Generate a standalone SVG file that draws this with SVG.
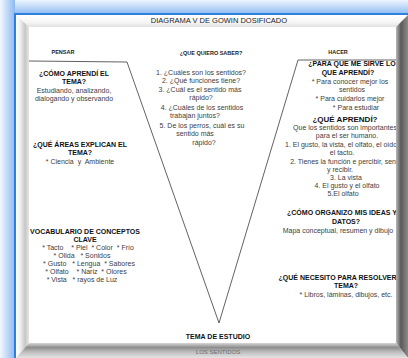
<svg xmlns="http://www.w3.org/2000/svg" width="408" height="358" viewBox="0 0 408 358">
<defs>
<linearGradient id="gTopBlue" x1="0" y1="0" x2="0" y2="1"><stop offset="0" stop-color="#eef5fe"/><stop offset="1" stop-color="#8ebcf2"/></linearGradient>
<linearGradient id="gLeftBlue" x1="0" y1="0" x2="1" y2="0"><stop offset="0" stop-color="#f2f7fe"/><stop offset="1" stop-color="#8cbaf0"/></linearGradient>
<linearGradient id="gTop" x1="0" y1="0" x2="0" y2="1"><stop offset="0" stop-color="#ffffff"/><stop offset="0.6" stop-color="#f6f6f6"/><stop offset="1" stop-color="#e2e2e2"/></linearGradient>
<linearGradient id="gLeft" x1="0" y1="0" x2="1" y2="0"><stop offset="0" stop-color="#ffffff"/><stop offset="0.3" stop-color="#f2f2f2"/><stop offset="0.7" stop-color="#c6c6c6"/><stop offset="1" stop-color="#e6e6e6"/></linearGradient>
<linearGradient id="gRight" x1="0" y1="0" x2="1" y2="0"><stop offset="0" stop-color="#b8b8b8"/><stop offset="0.4" stop-color="#5a5a5a"/><stop offset="1" stop-color="#8a8a8a"/></linearGradient>
<linearGradient id="gBottom" x1="0" y1="0" x2="0" y2="1"><stop offset="0" stop-color="#d6d6d6"/><stop offset="0.3" stop-color="#8e8e8e"/><stop offset="0.6" stop-color="#bdbdbd"/><stop offset="1" stop-color="#e4e4e4"/></linearGradient>
</defs>
<style>
text{font-family:"Liberation Sans",Arial,sans-serif;text-anchor:middle;white-space:pre}
.h{font-weight:bold;font-size:7px;fill:#111}
.hb{font-weight:bold;font-size:8px;fill:#111}
.t{font-size:7px;fill:#404040}
.s{font-weight:bold;font-size:5.5px;fill:#222}
.title{font-size:7.5px;fill:#222}
.sub{font-size:6px;fill:#6e6e6e}
.v{fill:none;stroke:#3a3a3a;stroke-width:0.8}
</style>
<rect width="408" height="358" fill="#ffffff"/>

<g id="connectors">
<polyline class="v" points="29,61 127,62 219,323 298,60 396,60"/>
</g>

<g id="pensar"><text class="s" x="63" y="54">PENSAR</text></g>
<g id="como-aprendi">
<text class="h" x="74" y="76">¿CÓMO APRENDÍ EL</text>
<text class="h" x="74" y="84">TEMA?</text>
<text class="t" x="74" y="93">Estudiando, analizando,</text>
<text class="t" x="74" y="101">dialogando y observando</text>
</g>
<g id="areas">
<text class="h" x="80" y="147">¿QUÉ ÁREAS EXPLICAN EL</text>
<text class="h" x="80" y="155">TEMA?</text>
<text class="t" x="80" y="164">* Ciencia  y  Ambiente</text>
</g>
<g id="vocabulario">
<text class="h" x="85" y="234">VOCABULARIO DE CONCEPTOS</text>
<text class="h" x="85" y="242">CLAVE</text>
<text class="t" x="88" y="250">* Tacto    * Piel  * Color  * Frío</text>
<text class="t" x="82" y="258">* Olida   * Sonidos</text>
<text class="t" x="89" y="266">* Gusto   * Lengua  * Sabores</text>
<text class="t" x="86" y="274">* Olfato    * Nariz  * Olores</text>
<text class="t" x="82" y="282">* Vista   * rayos de Luz</text>
</g>

<g id="quiero-saber">
<text class="s" x="211" y="55">¿QUE QUIERO SABER?</text>
<text class="t" x="201" y="75">1. ¿Cuáles son los sentidos?</text>
<text class="t" x="201" y="83">2. ¿Qué funciones tiene?</text>
<text class="t" x="200" y="92">3. ¿Cuál es el sentido más</text>
<text class="t" x="201" y="100">rápido?</text>
<text class="t" x="202" y="110">4. ¿Cuáles de los sentidos</text>
<text class="t" x="195" y="118">trabajan juntos?</text>
<text class="t" x="202" y="128">5. De los perros, cuál es su</text>
<text class="t" x="195" y="136">sentido más</text>
<text class="t" x="204" y="145">rápido?</text>
</g>

<g id="hacer"><text class="s" x="338" y="54">HACER</text></g>
<g id="para-que">
<text class="h" x="352" y="66">¿PARA QUE ME SIRVE LO</text>
<text class="h" x="348" y="75">QUE APRENDÍ?</text>
<text class="t" x="350" y="84">* Para conocer mejor los</text>
<text class="t" x="352" y="92">sentidos</text>
<text class="t" x="350" y="101">* Para cuidarlos mejor</text>
<text class="t" x="356" y="110">* Para estudiar</text>
</g>
<g id="que-aprendi">
<text class="hb" x="345" y="122">¿QUÉ APRENDÍ?</text>
<text class="t" x="345" y="130">Que los sentidos son importantes</text>
<text class="t" x="347" y="138">para el ser humano.</text>
<text class="t" x="342" y="147">1. El gusto, la vista, el olfato, el oído,</text>
<text class="t" x="342" y="155">el tacto.</text>
<text class="t" x="346" y="164">2. Tienes la función e percibir, sentir</text>
<text class="t" x="340" y="172">y recibir.</text>
<text class="t" x="346" y="180">3. La vista</text>
<text class="t" x="347" y="188">4. El gusto y el olfato</text>
<text class="t" x="343" y="196">5.El olfato</text>
</g>
<g id="organizo">
<text class="h" x="342" y="215">¿CÓMO ORGANIZO MIS IDEAS Y</text>
<text class="h" x="346" y="224">DATOS?</text>
<text class="t" x="338" y="233">Mapa conceptual, resumen y dibujo</text>
</g>
<g id="necesito">
<text class="h" x="343" y="280">¿QUÉ NECESITO PARA RESOLVER EL</text>
<text class="h" x="346" y="288">TEMA?</text>
<text class="t" x="346" y="297">* Libros, láminas, dibujos, etc.</text>
</g>
<g id="tema-estudio"><text class="h" x="218" y="339">TEMA DE ESTUDIO</text></g>

<g id="frame">
<rect x="0" y="0" width="408" height="14" fill="url(#gTopBlue)"/>
<rect x="0" y="0" width="15" height="358" fill="url(#gLeftBlue)"/>
<rect x="14" y="13" width="394" height="2" fill="#2f7fe0"/>
<rect x="14" y="13" width="2" height="345" fill="#2f7fe0"/>
<polygon points="16,15 408,15 396,27 29,27" fill="url(#gTop)"/>
<polygon points="16,15 29,27 29,343 16,358" fill="url(#gLeft)"/>
<polygon points="408,15 408,358 396,343 396,27" fill="url(#gRight)"/>
<polygon points="16,358 408,358 396,343 29,343" fill="url(#gBottom)"/>
</g>
<g id="title"><text class="title" x="219" y="23">DIAGRAMA V DE GOWIN DOSIFICADO</text></g>
<g id="sentidos"><text class="sub" x="218" y="354">LOS SENTIDOS</text></g>
</svg>
